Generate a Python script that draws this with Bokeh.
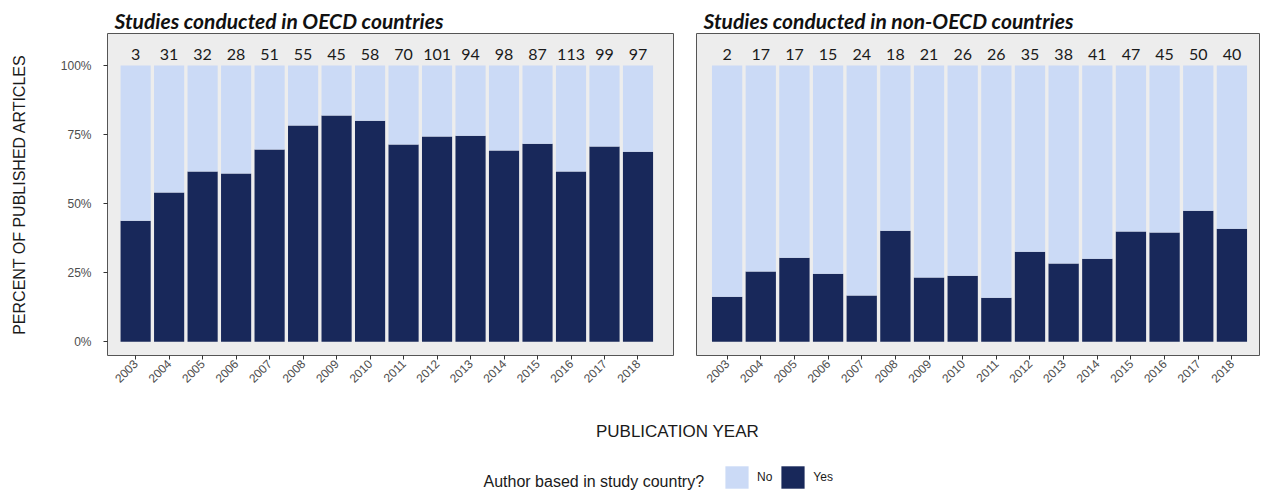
from math import pi

from bokeh.core.properties import value
from bokeh.embed import file_html
from bokeh.layouts import column, row
from bokeh.models import (ColumnDataSource, FixedTicker, Label, Legend,
                          LegendItem, Range1d)
from bokeh.plotting import figure
from bokeh.resources import INLINE

# Publication years shown on both facets
years = list(range(2003, 2019))

# Share of articles with an author based in the study country (OECD studies)
oecd_yes = [0.438, 0.540, 0.616, 0.609, 0.696, 0.783, 0.819, 0.800,
            0.714, 0.743, 0.746, 0.692, 0.717, 0.616, 0.707, 0.688]
# Number of articles per year (OECD studies)
oecd_counts = [3, 31, 32, 28, 51, 55, 45, 58, 70, 101, 94, 98, 87, 113, 99, 97]

# Share of articles with an author based in the study country (non-OECD studies)
non_oecd_yes = [0.163, 0.254, 0.304, 0.246, 0.167, 0.402, 0.232, 0.239,
                0.159, 0.326, 0.283, 0.300, 0.399, 0.395, 0.474, 0.409]
# Number of articles per year (non-OECD studies)
non_oecd_counts = [2, 17, 17, 15, 24, 18, 21, 26, 26, 35, 38, 41, 47, 45, 50, 40]

y_ticks = [0, 0.25, 0.5, 0.75, 1]
y_tick_labels = ["0%", "25%", "50%", "75%", "100%"]

facet_titles = ["Studies conducted in OECD countries",
                "Studies conducted in non-OECD countries"]

legend_title = "Author based in study country?"
legend_labels = ["No", "Yes"]

DARK = "#18285a"
LIGHT = "#cbdaf6"
PANEL_BG = "#ededed"
AXIS_TEXT = "#4d4d4d"
SANS = "Liberation Sans"


def facet(title, yes, counts, x_pad, width, border_left, border_right, show_y):
    p = figure(width=width, height=400,
               x_range=Range1d(years[0] - x_pad[0], years[-1] + x_pad[1]),
               y_range=Range1d(-0.05, 1.116),
               title=title, output_backend="svg", toolbar_location=None,
               y_axis_location="left" if show_y else None,
               min_border_left=border_left, min_border_right=border_right,
               min_border_top=33, min_border_bottom=45)

    src = ColumnDataSource(dict(year=years, yes=yes,
                                no=[1 - v for v in yes],
                                n=[str(c) for c in counts]))
    p.vbar_stack(["yes", "no"], x="year", width=0.9, source=src,
                 fill_color=[DARK, LIGHT], line_color=None)
    p.text(x="year", y=1.04, text="n", source=src,
           text_align="center", text_baseline="middle",
           text_font=value("Lato"), text_font_size="16px",
           text_color="#1a1a1a")

    p.title.text_font = "Lato"
    p.title.text_font_style = "bold italic"
    p.title.text_font_size = "21px"
    p.title.text_color = "#111111"
    p.title.align = "left"
    p.title.offset = 7
    p.title.standoff = 1

    p.background_fill_color = PANEL_BG
    p.border_fill_color = "white"
    p.outline_line_color = "#555555"
    p.outline_line_width = 1
    p.xgrid.visible = False
    p.ygrid.visible = False

    p.xaxis.ticker = FixedTicker(ticks=years)
    p.xaxis.major_label_orientation = pi / 4
    p.xaxis.major_label_standoff = 2
    p.axis.axis_line_color = None
    p.axis.major_tick_in = 0
    p.axis.major_tick_out = 4
    p.axis.major_tick_line_color = "#333333"
    p.axis.minor_tick_line_color = None
    p.axis.major_label_text_font = SANS
    p.axis.major_label_text_font_size = "12px"
    p.axis.major_label_text_color = AXIS_TEXT

    if show_y:
        p.yaxis.ticker = FixedTicker(ticks=y_ticks)
        p.yaxis.major_label_overrides = dict(zip(y_ticks, y_tick_labels))
        p.yaxis.major_label_standoff = 12
        p.yaxis.axis_label = "PERCENT OF PUBLISHED ARTICLES"
        p.yaxis.axis_label_text_font = SANS
        p.yaxis.axis_label_text_font_style = "normal"
        p.yaxis.axis_label_text_font_size = "16px"
        p.yaxis.axis_label_text_color = "#1a1a1a"
        p.yaxis.axis_label_standoff = 30
    return p


p1 = facet(facet_titles[0], oecd_yes, oecd_counts, (0.84, 1.06),
           684, 107, 11, True)
p2 = facet(facet_titles[1], non_oecd_yes, non_oecd_counts, (0.91, 0.82),
           577, 12, 2, False)

# Shared x-axis title and the fill legend underneath the facets
p3 = figure(width=1261, height=91, x_range=Range1d(0, 1), y_range=Range1d(0, 1),
            x_axis_location=None, y_axis_location=None, title=None,
            output_backend="svg", toolbar_location=None, min_border=0)
p3.outline_line_color = None
p3.grid.visible = False
p3.add_layout(Label(x=677, y=60, x_units="screen", y_units="screen",
                    text="PUBLICATION YEAR", text_align="center",
                    text_baseline="middle", text_font=SANS,
                    text_font_size="17px", text_color="#1a1a1a"))
p3.add_layout(Label(x=483, y=10, x_units="screen", y_units="screen",
                    text=legend_title, text_align="left",
                    text_baseline="middle", text_font=SANS,
                    text_font_size="16px", text_color="#1a1a1a"))

# Key swatches: one zero-height bar each, placed outside the visible range,
# so the legend has a glyph to draw its swatch from
key_src = ColumnDataSource(dict(x=[-1.0], top=[0.0]))
r_no = p3.vbar(x="x", top="top", width=0.1, source=key_src,
               fill_color=LIGHT, line_color=None)
r_yes = p3.vbar(x="x", top="top", width=0.1, source=key_src,
                fill_color=DARK, line_color=None)
legend = Legend(items=[LegendItem(label=legend_labels[0], renderers=[r_no]),
                       LegendItem(label=legend_labels[1], renderers=[r_yes])],
                location=(722, 0), orientation="horizontal",
                label_text_font=SANS, label_text_font_size="12px",
                label_text_color="#1a1a1a", label_standoff=6, label_width=0,
                glyph_width=29, glyph_height=28, spacing=6,
                padding=0, margin=0, border_line_color=None,
                background_fill_alpha=0)
p3.add_layout(legend)

layout = column(row(p1, p2), p3)

with open("out.html", "w") as f:
    f.write(file_html(layout, INLINE))
